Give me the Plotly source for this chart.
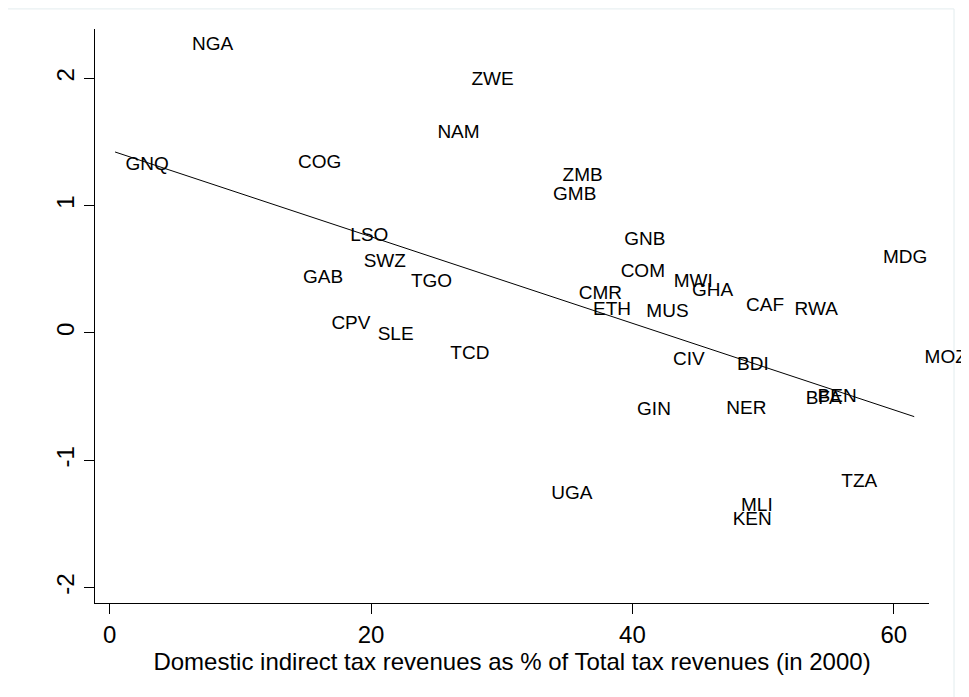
import plotly.graph_objects as go

# country codes and their (x, y) positions
COUNTRIES = [
    "NGA", "GNQ", "COG", "NAM", "ZWE", "LSO", "SWZ", "GAB", "TGO", "CPV",
    "SLE", "TCD", "ZMB", "GMB", "GNB", "COM", "MWI", "GHA", "CMR", "ETH",
    "MUS", "CAF", "RWA", "MDG", "CIV", "BDI", "MOZ", "BFA", "BEN", "GIN",
    "NER", "TZA", "UGA", "MLI", "KEN",
]
INDIRECT_TAX_SHARE = [
    5.51, 0.41, 13.62, 24.28, 26.88, 17.62, 18.64, 14.00, 22.26, 16.17,
    19.71, 25.27, 33.86, 33.13, 38.58, 38.30, 42.36, 43.76, 35.09, 36.19,
    40.27, 47.90, 51.61, 58.38, 42.31, 47.21, 61.56, 52.46, 53.37, 39.56,
    46.39, 55.19, 33.00, 47.51, 46.87,
]
OUTCOME = [
    2.257, 1.320, 1.333, 1.569, 1.987, 0.757, 0.555, 0.430, 0.398, 0.071,
    -0.016, -0.167, 1.228, 1.079, 0.731, 0.477, 0.398, 0.325, 0.304, 0.181,
    0.163, 0.212, 0.181, 0.587, -0.212, -0.251, -0.199, -0.518, -0.508, -0.605,
    -0.600, -1.173, -1.267, -1.364, -1.469,
]

# fitted line
FIT_INTERCEPT = 1.436
FIT_SLOPE = -0.0340

X_TICKS = [0, 20, 40, 60]
Y_TICKS = [-2, -1, 0, 1, 2]
Y_TICK_TEXT = ["-2", "-1", "0", "1", "2"]

FONT = "Liberation Sans, Arial, sans-serif"

fit_x = [min(INDIRECT_TAX_SHARE), max(INDIRECT_TAX_SHARE)]
fit_y = [FIT_INTERCEPT + FIT_SLOPE * v for v in fit_x]

fig = go.Figure()

fig.add_trace(go.Scatter(
    x=INDIRECT_TAX_SHARE,
    y=OUTCOME,
    mode="markers+text",
    text=COUNTRIES,
    textposition="middle right",
    textfont=dict(family=FONT, size=19, color="black"),
    marker=dict(size=15, opacity=0),
    cliponaxis=False,
    showlegend=False,
    hoverinfo="skip",
))

fig.add_trace(go.Scatter(
    x=fit_x,
    y=fit_y,
    mode="lines",
    line=dict(color="black", width=1),
    showlegend=False,
    hoverinfo="skip",
))

# faint outer frame of the graph region
fig.add_shape(
    type="rect", xref="paper", yref="paper",
    x0=-0.12, x1=1.030, y0=-0.2, y1=1.035,
    line=dict(color="#e3ecee", width=1),
    layer="below",
)

fig.update_layout(
    width=961,
    height=689,
    paper_bgcolor="white",
    plot_bgcolor="white",
    margin=dict(l=87, r=40, t=21, b=94),
    font=dict(family=FONT, color="black"),
    xaxis=dict(
        range=[-1.125, 62.69],
        tickvals=X_TICKS,
        ticks="outside",
        ticklen=10,
        tickwidth=1,
        tickcolor="black",
        showline=True,
        linecolor="black",
        linewidth=1,
        showgrid=False,
        zeroline=False,
        tickfont=dict(size=24),
        title=dict(
            text="Domestic indirect tax revenues as % of Total tax revenues (in 2000)",
            font=dict(size=24),
            standoff=0,
        ),
    ),
    yaxis=dict(
        range=[-2.121, 2.388],
        tickvals=Y_TICKS,
        ticktext=Y_TICK_TEXT,
        tickangle=-90,
        ticks="outside",
        ticklen=10,
        tickwidth=1,
        tickcolor="black",
        showline=True,
        linecolor="black",
        linewidth=1,
        showgrid=False,
        zeroline=False,
        tickfont=dict(size=24),
    ),
)

fig.write_html("out.html")
